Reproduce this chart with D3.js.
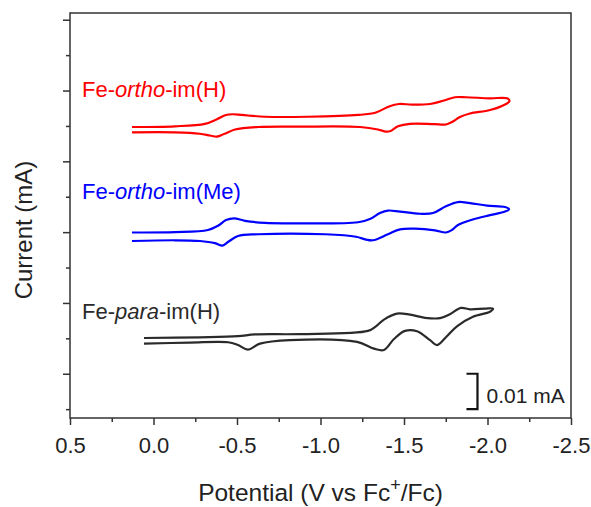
<!DOCTYPE html>
<html>
<head>
<meta charset="utf-8">
<script src="https://cdn.jsdelivr.net/npm/d3@7"></script>
<style>
  body { margin: 0; background: #fff; }
  svg { display: block; font-family: Arial, "Liberation Sans", Helvetica, sans-serif; }
</style>
</head>
<body>
<svg id="chart" width="591" height="507"></svg>
<script>
// potentials (V vs Fc+/Fc) and currents (µA, stacked offsets) traced as one loop per complex
const redE = [0.129, -0.129, -0.308, -0.380, -0.434, -0.476, -0.530, -0.668, -0.925, -1.225, -1.332, -1.410, -1.470, -1.548, -1.656, -1.734, -1.805, -1.871, -2.015, -2.117, -2.132,
  -2.111, -2.015, -1.895, -1.835, -1.787, -1.751, -1.680, -1.536, -1.464, -1.416, -1.392, -1.344, -1.237, -0.877, -0.626, -0.488, -0.422, -0.380, -0.338, -0.278, -0.129, 0.129];
const redI = [79.7, 79.9, 80.6, 81.9, 83.1, 83.3, 83.1, 82.6, 82.6, 83.1, 83.8, 85.5, 86.2, 86.0, 86.2, 87.1, 88.1, 88.1, 87.8, 87.8, 87.0,
  86.2, 84.5, 83.5, 82.5, 81.1, 80.4, 80.5, 80.6, 79.9, 78.5, 78.4, 79.0, 79.7, 79.8, 79.7, 79.0, 77.7, 77.0, 77.3, 77.8, 78.2, 78.2];

const blueE = [0.129, -0.129, -0.326, -0.386, -0.434, -0.482, -0.548, -0.668, -0.817, -1.225, -1.296, -1.356, -1.404, -1.476, -1.596, -1.674, -1.751, -1.823, -1.895, -1.997, -2.105, -2.129,
  -2.105, -2.015, -1.907, -1.823, -1.787, -1.751, -1.686, -1.566, -1.476, -1.404, -1.314, -1.272, -1.213, -1.027, -0.626, -0.506, -0.446, -0.413, -0.368, -0.278, -0.129, 0.129];
const blueI = [49.9, 50.0, 50.6, 51.8, 53.4, 53.9, 53.2, 52.6, 52.5, 52.8, 53.7, 55.4, 56.1, 55.8, 55.2, 55.4, 57.3, 58.5, 58.2, 57.5, 57.1, 56.5,
  55.8, 54.8, 53.5, 52.0, 50.6, 49.9, 50.5, 51.0, 50.8, 49.4, 47.7, 47.9, 48.7, 49.4, 49.4, 48.9, 47.2, 46.2, 46.9, 47.5, 47.7, 47.5];

const blackE = [0.057, -0.278, -0.506, -0.608, -0.877, -1.284, -1.332, -1.380, -1.458, -1.536, -1.626, -1.716, -1.775, -1.841, -1.895, -1.985, -2.033,
  -2.015, -1.913, -1.817, -1.751, -1.698, -1.656, -1.578, -1.506, -1.440, -1.380, -1.320, -1.219, -0.817, -0.638, -0.566, -0.506, -0.446, -0.219, 0.057];
const blackI = [20.1, 20.3, 20.6, 21.1, 21.2, 22.1, 23.4, 25.3, 27.0, 26.7, 25.8, 25.7, 26.8, 28.6, 28.2, 28.4, 28.4,
  27.5, 26.1, 23.4, 20.3, 18.1, 19.5, 22.0, 22.1, 19.8, 16.7, 17.1, 19.0, 19.5, 18.5, 16.8, 18.1, 18.9, 18.8, 18.5];

const xTicks = [0.5, 0.0, -0.5, -1.0, -1.5, -2.0, -2.5];
const xMinor = [0.25, -0.25, -0.75, -1.25, -1.75, -2.25];
const yMajor = [10, 30, 50, 70, 90, 110];
const yMinor = [0, 20, 40, 60, 80, 100];

const series = [
  { name: ['Fe-', 'ortho', '-im(H)'], E: redE, I: redI, color: '#ff0000', labelY: 97 },
  { name: ['Fe-', 'ortho', '-im(Me)'], E: blueE, I: blueI, color: '#0000ff', labelY: 199 },
  { name: ['Fe-', 'para', '-im(H)'], E: blackE, I: blackI, color: '#2a2a2a', labelY: 319 },
];
const scaleBar = { E: -1.94, from: 0, to: 10, label: '0.01 mA' };

const svg = d3.select('#chart');
const m = { l: 70, r: 20, t: 13, b: 89 };
const W = 591, H = 507;
const x = d3.scaleLinear().domain([0.5, -2.5]).range([m.l, W - m.r]);
const y = d3.scaleLinear().domain([-2.5, 111.9]).range([H - m.b, m.t]);
const axisCol = '#333';

// frame
svg.append('rect').attr('x', m.l).attr('y', m.t)
  .attr('width', W - m.r - m.l).attr('height', H - m.b - m.t)
  .attr('fill', 'none').attr('stroke', axisCol).attr('stroke-width', 1.5);

// x axis
const gx = svg.append('g').attr('transform', `translate(0,${H - m.b})`);
gx.call(d3.axisBottom(x).tickValues(xTicks).tickFormat(d => d.toFixed(1)).tickSize(7).tickPadding(12).tickSizeOuter(0));
gx.append('g').call(d3.axisBottom(x).tickValues(xMinor).tickFormat('').tickSize(4).tickSizeOuter(0));
gx.selectAll('.domain').remove();
gx.selectAll('line').attr('stroke', axisCol).attr('stroke-width', 1.5);
gx.selectAll('text').attr('font-size', 22).attr('fill', '#222').style('font-family', 'inherit');

// y axis (no labels)
const gy = svg.append('g').attr('transform', `translate(${m.l},0)`);
gy.call(d3.axisLeft(y).tickValues(yMajor).tickFormat('').tickSize(7).tickSizeOuter(0));
gy.append('g').call(d3.axisLeft(y).tickValues(yMinor).tickFormat('').tickSize(4).tickSizeOuter(0));
gy.selectAll('.domain').remove();
gy.selectAll('line').attr('stroke', axisCol).attr('stroke-width', 1.5);

// curves
const line = d3.line().x(d => x(d[0])).y(d => y(d[1])).curve(d3.curveCatmullRom.alpha(0.5));
series.forEach(s => {
  svg.append('path').datum(s.E.map((e, i) => [e, s.I[i]]))
    .attr('d', line).attr('fill', 'none').attr('stroke', s.color)
    .attr('stroke-width', 2.2).attr('stroke-linejoin', 'round');
  const t = svg.append('text').attr('x', 82).attr('y', s.labelY)
    .attr('font-size', 22).attr('fill', s.color);
  t.append('tspan').text(s.name[0]);
  t.append('tspan').attr('font-style', 'italic').text(s.name[1]);
  t.append('tspan').text(s.name[2]);
});

// scale bar
const sx = x(scaleBar.E), sy0 = y(scaleBar.from), sy1 = y(scaleBar.to);
svg.append('path')
  .attr('d', `M${sx - 11},${sy1}H${sx}V${sy0}H${sx - 11}`)
  .attr('fill', 'none').attr('stroke', '#111').attr('stroke-width', 2.2);
svg.append('text').attr('x', sx + 9).attr('y', 402.5).attr('font-size', 21).attr('fill', '#222')
  .text(scaleBar.label);

// axis titles
const xt = svg.append('text').attr('x', (m.l + W - m.r) / 2).attr('y', 501)
  .attr('text-anchor', 'middle').attr('font-size', 24.5).attr('fill', '#222');
xt.append('tspan').text('Potential (V vs Fc');
xt.append('tspan').attr('font-size', 18).attr('dy', -10).text('+');
xt.append('tspan').attr('dy', 10).text('/Fc)');

svg.append('text').attr('transform', 'translate(31.5,230) rotate(-90)')
  .attr('text-anchor', 'middle').attr('font-size', 24).attr('fill', '#222')
  .text('Current (mA)');
</script>
</body>
</html>
